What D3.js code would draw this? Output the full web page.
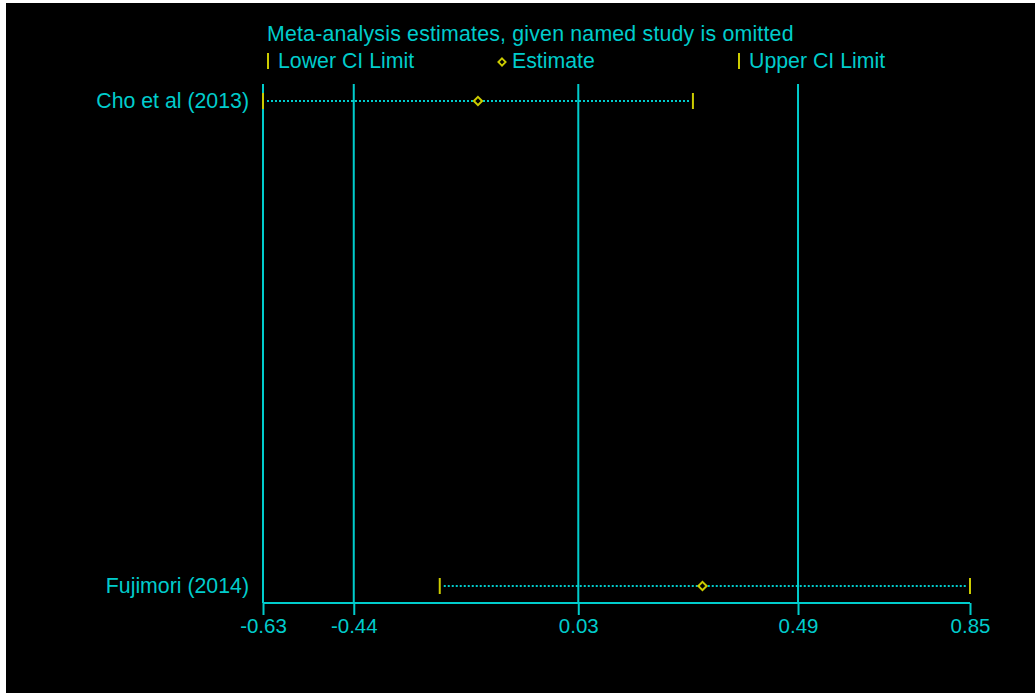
<!DOCTYPE html>
<html><head><meta charset="utf-8">
<script src="https://cdn.jsdelivr.net/npm/d3@7"></script>
<style>
html,body{margin:0;padding:0;background:#fff;}
svg{display:block;}
text{font-family:"Liberation Sans",Arial,sans-serif;}
</style></head>
<body>
<script>
const studies = ["Cho et al (2013)", "Fujimori (2014)"];
const lowerCI = [-0.63, -0.26];
const estimate = [-0.18, 0.29];
const upperCI = [0.27, 0.85];
const tickValues = [-0.63, -0.44, 0.03, 0.49, 0.85];
const gridValues = [-0.63, -0.44, 0.03, 0.49];
const titleText = "Meta-analysis estimates, given named study is omitted";
const legendLabels = ["Lower CI Limit", "Estimate", "Upper CI Limit"];

const W = 1035, H = 693;
const cyan = "#00cccc", yellow = "#cccc00";
const FS = 21.3;
const svg = d3.select("body").append("svg").attr("width", W).attr("height", H);
svg.append("rect").attr("width", W).attr("height", H).attr("fill", "#fff");
svg.append("rect").attr("x", 6).attr("y", 3).attr("width", W - 6).attr("height", H - 3).attr("fill", "#000");

const x = d3.scaleLinear().domain([-0.63, 0.85]).range([263, 970]);
const y = d3.scalePoint().domain(studies).range([101, 586]);
const axisY = 603, topY = 84;

// grid lines
svg.selectAll(".grid").data(gridValues).enter().append("line")
  .attr("x1", d => x(d)).attr("x2", d => x(d)).attr("y1", topY).attr("y2", axisY)
  .attr("stroke", cyan).attr("stroke-width", 2);

// axis
const axis = d3.axisBottom(x).tickValues(tickValues)
  .tickFormat(d => d3.format(".2f")(d).replace("\u2212", "-")).tickSize(12).tickSizeOuter(0);
const ag = svg.append("g").attr("transform", `translate(0,${axisY})`).call(axis);
ag.select(".domain").attr("stroke", cyan).attr("stroke-width", 2).attr("d", `M${x(-0.63)},0H${x(0.85)}`);
ag.selectAll(".tick line").attr("stroke", cyan).attr("stroke-width", 2);
ag.selectAll(".tick text").attr("fill", cyan).attr("font-size", 20.5).attr("dy", 0).attr("y", 30)
  .attr("font-family", "Liberation Sans, Arial, sans-serif");

// rows
studies.forEach((s, i) => {
  const yy = y(s);
  svg.append("line").attr("x1", x(lowerCI[i]) + 4).attr("x2", x(upperCI[i]) - 3)
    .attr("y1", yy).attr("y2", yy).attr("stroke", cyan).attr("stroke-width", 2).attr("stroke-dasharray", "2,2");
  [lowerCI[i], upperCI[i]].forEach(v => {
    svg.append("line").attr("x1", x(v)).attr("x2", x(v)).attr("y1", yy - 8).attr("y2", yy + 8)
      .attr("stroke", yellow).attr("stroke-width", 2);
  });
  svg.append("path").attr("d", d3.symbol().type(d3.symbolDiamond2).size(44)())
    .attr("transform", `translate(${x(estimate[i])},${yy})`)
    .attr("fill", "#000").attr("stroke", yellow).attr("stroke-width", 2);
  svg.append("text").attr("x", 249).attr("y", yy + 7).attr("text-anchor", "end")
    .attr("fill", cyan).attr("font-size", FS).text(s);
});

// title and legend
svg.append("text").attr("x", 267).attr("y", 41).attr("fill", cyan).attr("font-size", FS)
  .attr("letter-spacing", 0.2).text(titleText);
const legX = [268, 502, 739];
legX.forEach((lx, i) => {
  if (i === 1) {
    svg.append("path").attr("d", d3.symbol().type(d3.symbolDiamond2).size(34)())
      .attr("transform", `translate(${lx},62)`).attr("fill", "#000").attr("stroke", yellow).attr("stroke-width", 1.8);
  } else {
    svg.append("line").attr("x1", lx).attr("x2", lx).attr("y1", 53).attr("y2", 69).attr("stroke", yellow).attr("stroke-width", 2);
  }
  svg.append("text").attr("x", lx + 10).attr("y", 68).attr("fill", cyan).attr("font-size", FS).text(legendLabels[i]);
});
</script>
</body></html>
